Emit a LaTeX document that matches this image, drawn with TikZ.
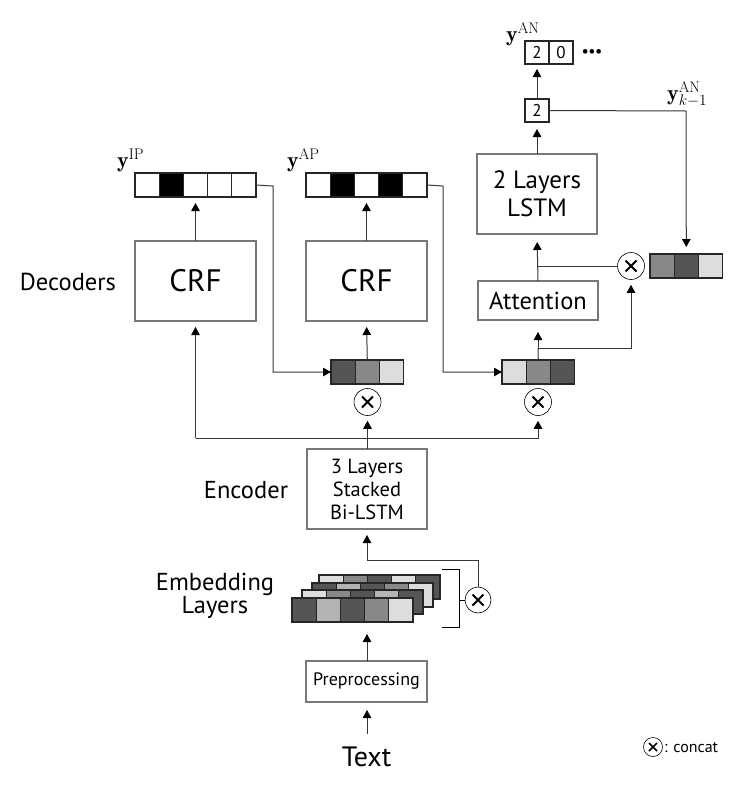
\documentclass[tikz,border=0pt]{standalone}
\usepackage{fix-cm}
\usepackage{fontspec}
\newfontfamily\lab{PT Sans}
\usetikzlibrary{arrows.meta}
\definecolor{cdark}{RGB}{85,85,85}
\definecolor{cmid}{RGB}{136,136,136}
\definecolor{clm}{RGB}{180,180,180}
\definecolor{clight}{RGB}{221,221,221}
\definecolor{boxgray}{RGB}{120,120,120}
\definecolor{linegray}{RGB}{55,55,55}
\begin{document}
\begin{tikzpicture}[x=1pt,y=-1pt,
  box/.style={draw=boxgray, line width=1.2pt, inner sep=0pt, outer sep=0pt, align=center, font=\lab},
  cell/.style={draw=black!85, line width=1.1pt, minimum width=24.2pt, minimum height=24pt, inner sep=0pt, outer sep=0pt, anchor=west, font=\lab\fontsize{17}{20}\selectfont},
  arr/.style={line width=1pt, draw=linegray, -{Triangle[length=8pt,width=8.5pt,color=black]}},
  ln/.style={line width=1pt, draw=linegray},
  lbl/.style={font=\lab\fontsize{24.5}{23}\selectfont, align=center, inner sep=0pt},
  ylab/.style={font=\fontsize{22}{26}\selectfont, inner sep=0pt, anchor=base west},
  cat/.style={circle, draw=black, line width=0.6pt, minimum size=27pt, inner sep=0pt, fill=white,
    path picture={\draw[line width=2pt]
      ([shift={(-5.5pt,-5.5pt)}]path picture bounding box.center) -- ([shift={(5.5pt,5.5pt)}]path picture bounding box.center)
      ([shift={(-5.5pt,5.5pt)}]path picture bounding box.center) -- ([shift={(5.5pt,-5.5pt)}]path picture bounding box.center);}},
  catsmall/.style={circle, draw=black, line width=0.6pt, minimum size=19pt, inner sep=0pt, fill=white,
    path picture={\draw[line width=1.5pt]
      ([shift={(-4pt,-4pt)}]path picture bounding box.center) -- ([shift={(4pt,4pt)}]path picture bounding box.center)
      ([shift={(-4pt,4pt)}]path picture bounding box.center) -- ([shift={(4pt,-4pt)}]path picture bounding box.center);}}
]
\useasboundingbox[fill=white] (0,0) rectangle (737,785);

% ---- boxes ----
\node[box, minimum width=121pt, minimum height=80pt, font=\lab\fontsize{31}{34}\selectfont] (crf1) at (195.5,281) {CRF};
\node[box, minimum width=121pt, minimum height=80pt, font=\lab\fontsize{31}{34}\selectfont] (crf2) at (366.5,281) {CRF};
\node[box, minimum width=120pt, minimum height=80pt, font=\lab\fontsize{25}{28}\selectfont] (lstm) at (537,194) {2 Layers\\LSTM};
\node[box, minimum width=120pt, minimum height=39pt, font=\lab\fontsize{24.5}{26}\selectfont] (att) at (538,300.5) {Attention};
\node[box, minimum width=120pt, minimum height=80pt, font=\lab\fontsize{20.5}{23}\selectfont] (enc) at (367,489) {3 Layers\\Stacked\\Bi-LSTM};
\node[box, minimum width=121pt, minimum height=41pt, font=\lab\fontsize{18}{20}\selectfont] (prep) at (366.5,681.5) {Preprocessing};
\node[lbl, font=\lab\fontsize{28}{30}\selectfont] (text) at (366.5,757) {Text};

% ---- side labels ----
\node[lbl] (dec) at (68,282) {Decoders};
\node[lbl] (encl) at (246,490) {Encoder};
\node[lbl] (embl) at (215,596) {Embedding\\Layers};

% ---- output vectors ----
\node[cell, fill=white] (ip1) at (135,185) {};
\node[cell, fill=black] (ip2) at (ip1.east) {};
\node[cell, fill=white] (ip3) at (ip2.east) {};
\node[cell, fill=white] (ip4) at (ip3.east) {};
\node[cell, fill=white] (ip5) at (ip4.east) {};
\node[ylab] (yip) at (117,167) {$\mathbf{y}^{\mathrm{IP}}$};

\node[cell, fill=white] (ap1) at (306,185) {};
\node[cell, fill=black] (ap2) at (ap1.east) {};
\node[cell, fill=white] (ap3) at (ap2.east) {};
\node[cell, fill=black] (ap4) at (ap3.east) {};
\node[cell, fill=white] (ap5) at (ap4.east) {};
\node[ylab] (yap) at (287,167) {$\mathbf{y}^{\mathrm{AP}}$};

% ---- concat vectors ----
\node[cell, fill=cdark] (ca1) at (331,372) {};
\node[cell, fill=cmid] (ca2) at (ca1.east) {};
\node[cell, fill=clight] (ca3) at (ca2.east) {};
\node[cat] (catA) at (367.5,402) {};

\node[cell, fill=clight] (cb1) at (502,372) {};
\node[cell, fill=cmid] (cb2) at (cb1.east) {};
\node[cell, fill=cdark] (cb3) at (cb2.east) {};
\node[cat] (catB) at (538,402) {};

\node[cat] (catC) at (631,266) {};
\node[cell, fill=cmid] (vd1) at (650,266) {};
\node[cell, fill=cdark] (vd2) at (vd1.east) {};
\node[cell, fill=clight] (vd3) at (vd2.east) {};

% ---- AN outputs ----
\node[cell, minimum width=24pt, minimum height=23pt] (out) at (525,110.5) {2};
\node[cell, minimum width=24pt, minimum height=23pt] (an1) at (525,52.5) {2};
\node[cell, minimum width=24pt, minimum height=23pt] (an2) at (an1.east) {0};
\node[font=\lab\bfseries\fontsize{15}{16}\selectfont, inner sep=0pt] (dots) at (592,53) {•••};
\node[ylab] (yan) at (506,41) {$\mathbf{y}^{\mathrm{AN}}$};
\node[ylab] (yank) at (667,100) {$\mathbf{y}^{\mathrm{AN}}_{k-1}$};

% ---- embedding layers ----
\foreach \r/\x/\y/\ca/\cb/\cc/\cd/\ce in {4/319/587/clight/cmid/cdark/clight/cdark,
  3/312/595/cdark/clm/cdark/cmid/clight,
  2/302/602/clight/cmid/cdark/clm/cdark,
  1/292/610/cdark/clm/cdark/cmid/clight}{
  \node[cell, fill=\ca] (e\r a) at (\x,\y) {};
  \node[cell, fill=\cb] (e\r b) at (e\r a.east) {};
  \node[cell, fill=\cc] (e\r c) at (e\r b.east) {};
  \node[cell, fill=\cd] (e\r d) at (e\r c.east) {};
  \node[cell, fill=\ce] (e\r e) at (e\r d.east) {};
}
\coordinate (bt) at (442,569);
\coordinate (bb) at (442,627);
\node[cat, minimum size=26pt] (catE) at (478,600) {};
\draw[line width=1pt, black] (bt) -- ++(17,0) coordinate (btr) -- (btr |- bb) coordinate (bbr) -- (bb);
\draw[line width=1pt, black] (btr |- catE) -- (catE.west);

% ---- legend ----
\node[catsmall] (catL) at (653,747) {};
\node[font=\lab\fontsize{16}{20}\selectfont, anchor=west, inner sep=0pt] (legt) at (664,748) {: concat};

% ---- connectors ----
\coordinate (j1) at (273,186);
\coordinate (j1b) at (443,186);
\draw[arr] (ip5.east) -- (j1) |- (ca1.west);
\draw[arr] (ap5.east) -- (j1b) |- (cb1.west);
\draw[arr, shorten >=6pt] (ca2.north) -- (crf2.south);
\draw[arr, shorten >=6pt] (ip3.south |- crf1.north) -- (ip3.south);
\draw[arr, shorten >=6pt] (ap3.south |- crf2.north) -- (ap3.south);

\coordinate (j2) at (195.5,438);
\draw[arr, shorten >=6pt] (j2) -- (crf1.south);
\draw[arr, shorten >=5pt] (j2) -| (catB.south);
\draw[arr, shorten >=5pt] (enc.north -| catA) -- (catA.south);

\coordinate (j3) at (538,348);
\draw[ln] (cb2.north) -- (j3);
\draw[arr, shorten >=12pt] (j3) -- (att.south);
\draw[arr, shorten >=5pt] (j3) -| (catC.south);
\coordinate (j4) at (538,266);
\draw[arr, shorten >=8pt] (att.north) -- (lstm.south);
\draw[ln] (j4) -- (catC.west);
\draw[arr, shorten >=7pt] (lstm.north -| out) -- (out.south);
\draw[arr, shorten >=5pt] (out.north) -- (out.north |- an1.south);
\coordinate (j5) at (686,111);
\draw[arr, shorten >=7pt] (out.east) -- (j5) -- (vd2.north);

\coordinate (j6) at (367,560);
\draw[arr, shorten >=6pt] (catE.north) |- (j6) -- (enc.south -| j6);
\draw[arr, shorten >=12pt] (prep.north -| j6) -- (j6 |- e1c.south);
\draw[arr, shorten >=8pt] (text.north -| j6) ++(0,-13) -- (prep.south -| j6);
\end{tikzpicture}
\end{document}
